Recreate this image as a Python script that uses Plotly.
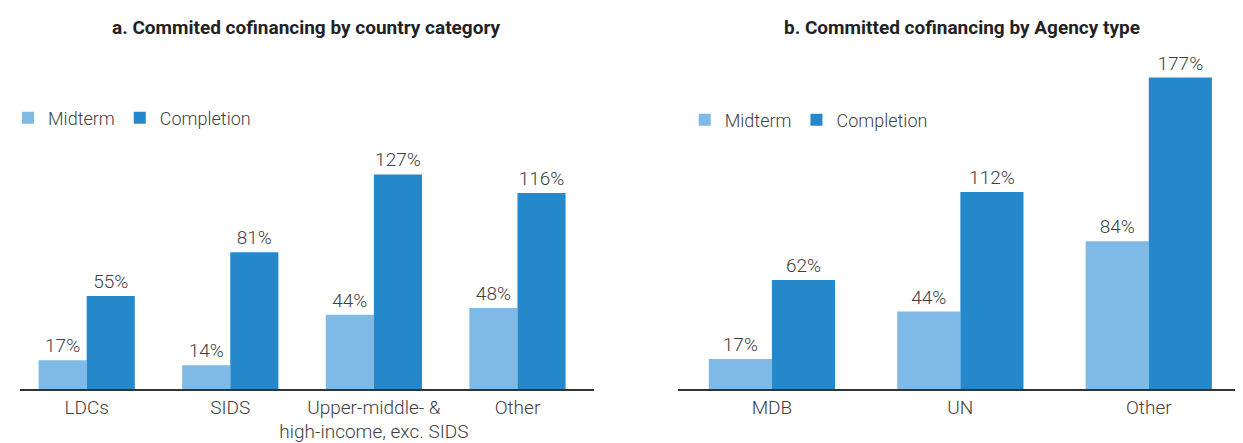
import plotly.graph_objects as go

# Panel a: country category
country_cats = ["LDCs", "SIDS", "Upper-middle- &<br>high-income, exc. SIDS", "Other"]
country_midterm = [17, 14, 44, 48]
country_completion = [55, 81, 127, 116]

# Panel b: agency type
agency_cats = ["MDB", "UN", "Other"]
agency_midterm = [17, 44, 84]
agency_completion = [62, 112, 177]

LIGHT = "#7EBAE5"
DARK = "#2588CB"
TEXT = "#404040"
FONT = "Roboto, sans-serif"
LABEL_FONT = dict(size=19, color=TEXT, family=FONT, weight=300)
LEGEND_FONT = dict(size=18, color=TEXT, family=FONT, weight=300)

fig = go.Figure()


def add_bars(cats, mid, comp, xa, ya, legend):
    fig.add_trace(go.Bar(
        x=cats, y=mid, name="Midterm", marker=dict(color=LIGHT, line=dict(width=0)),
        texttemplate="%{y}%", textposition="outside", cliponaxis=False,
        textfont=LABEL_FONT,
        xaxis=xa, yaxis=ya, legend=legend,
    ))
    fig.add_trace(go.Bar(
        x=cats, y=comp, name="Completion", marker=dict(color=DARK, line=dict(width=0)),
        texttemplate="%{y}%", textposition="outside", cliponaxis=False,
        textfont=LABEL_FONT,
        xaxis=xa, yaxis=ya, legend=legend,
    ))


add_bars(country_cats, country_midterm, country_completion, "x", "y", "legend")
add_bars(agency_cats, agency_midterm, agency_completion, "x2", "y2", "legend2")

xaxis_style = dict(
    showline=True, linecolor="#333333", linewidth=1.5, ticks="",
    tickfont=LABEL_FONT, showgrid=False, automargin=False,
)
yaxis_style = dict(visible=False, showgrid=False, zeroline=False, automargin=False)

# page body keeps its default 8px margin, so the figure is 8px smaller each way
fig.update_layout(
    width=1235, height=435,
    margin=dict(l=0, r=0, t=0, b=0),
    plot_bgcolor="white", paper_bgcolor="white",
    barmode="group", bargap=0.33, bargroupgap=0,
    font=dict(family=FONT, color=TEXT),
    xaxis=dict(domain=[0.0032, 0.4713], range=[-0.465, 3.535], **xaxis_style),
    xaxis2=dict(domain=[0.5393, 1.0], anchor="y2", **xaxis_style),
    yaxis=dict(domain=[0.1241, 0.8805], range=[0, 194.7], **yaxis_style),
    yaxis2=dict(domain=[0.1241, 0.8805], range=[0, 187], anchor="x2", **yaxis_style),
    legend=dict(orientation="h", x=-0.0065, y=0.7471, xanchor="left", yanchor="middle",
                font=LEGEND_FONT, bgcolor="rgba(0,0,0,0)", itemwidth=30),
    legend2=dict(orientation="h", x=0.545, y=0.7425, xanchor="left", yanchor="middle",
                 font=LEGEND_FONT, bgcolor="rgba(0,0,0,0)", itemwidth=30),
    annotations=[
        dict(text="<b>a. Commited cofinancing by country category</b>", x=0.2364, y=0.9563,
             xref="paper", yref="paper", xanchor="center", yanchor="middle", showarrow=False,
             font=dict(size=19, color="#222222", family=FONT)),
        dict(text="<b>b. Committed cofinancing by Agency type</b>", x=0.7709, y=0.9563,
             xref="paper", yref="paper", xanchor="center", yanchor="middle", showarrow=False,
             font=dict(size=19, color="#222222", family=FONT)),
    ],
)

fig.write_html("out.html")
